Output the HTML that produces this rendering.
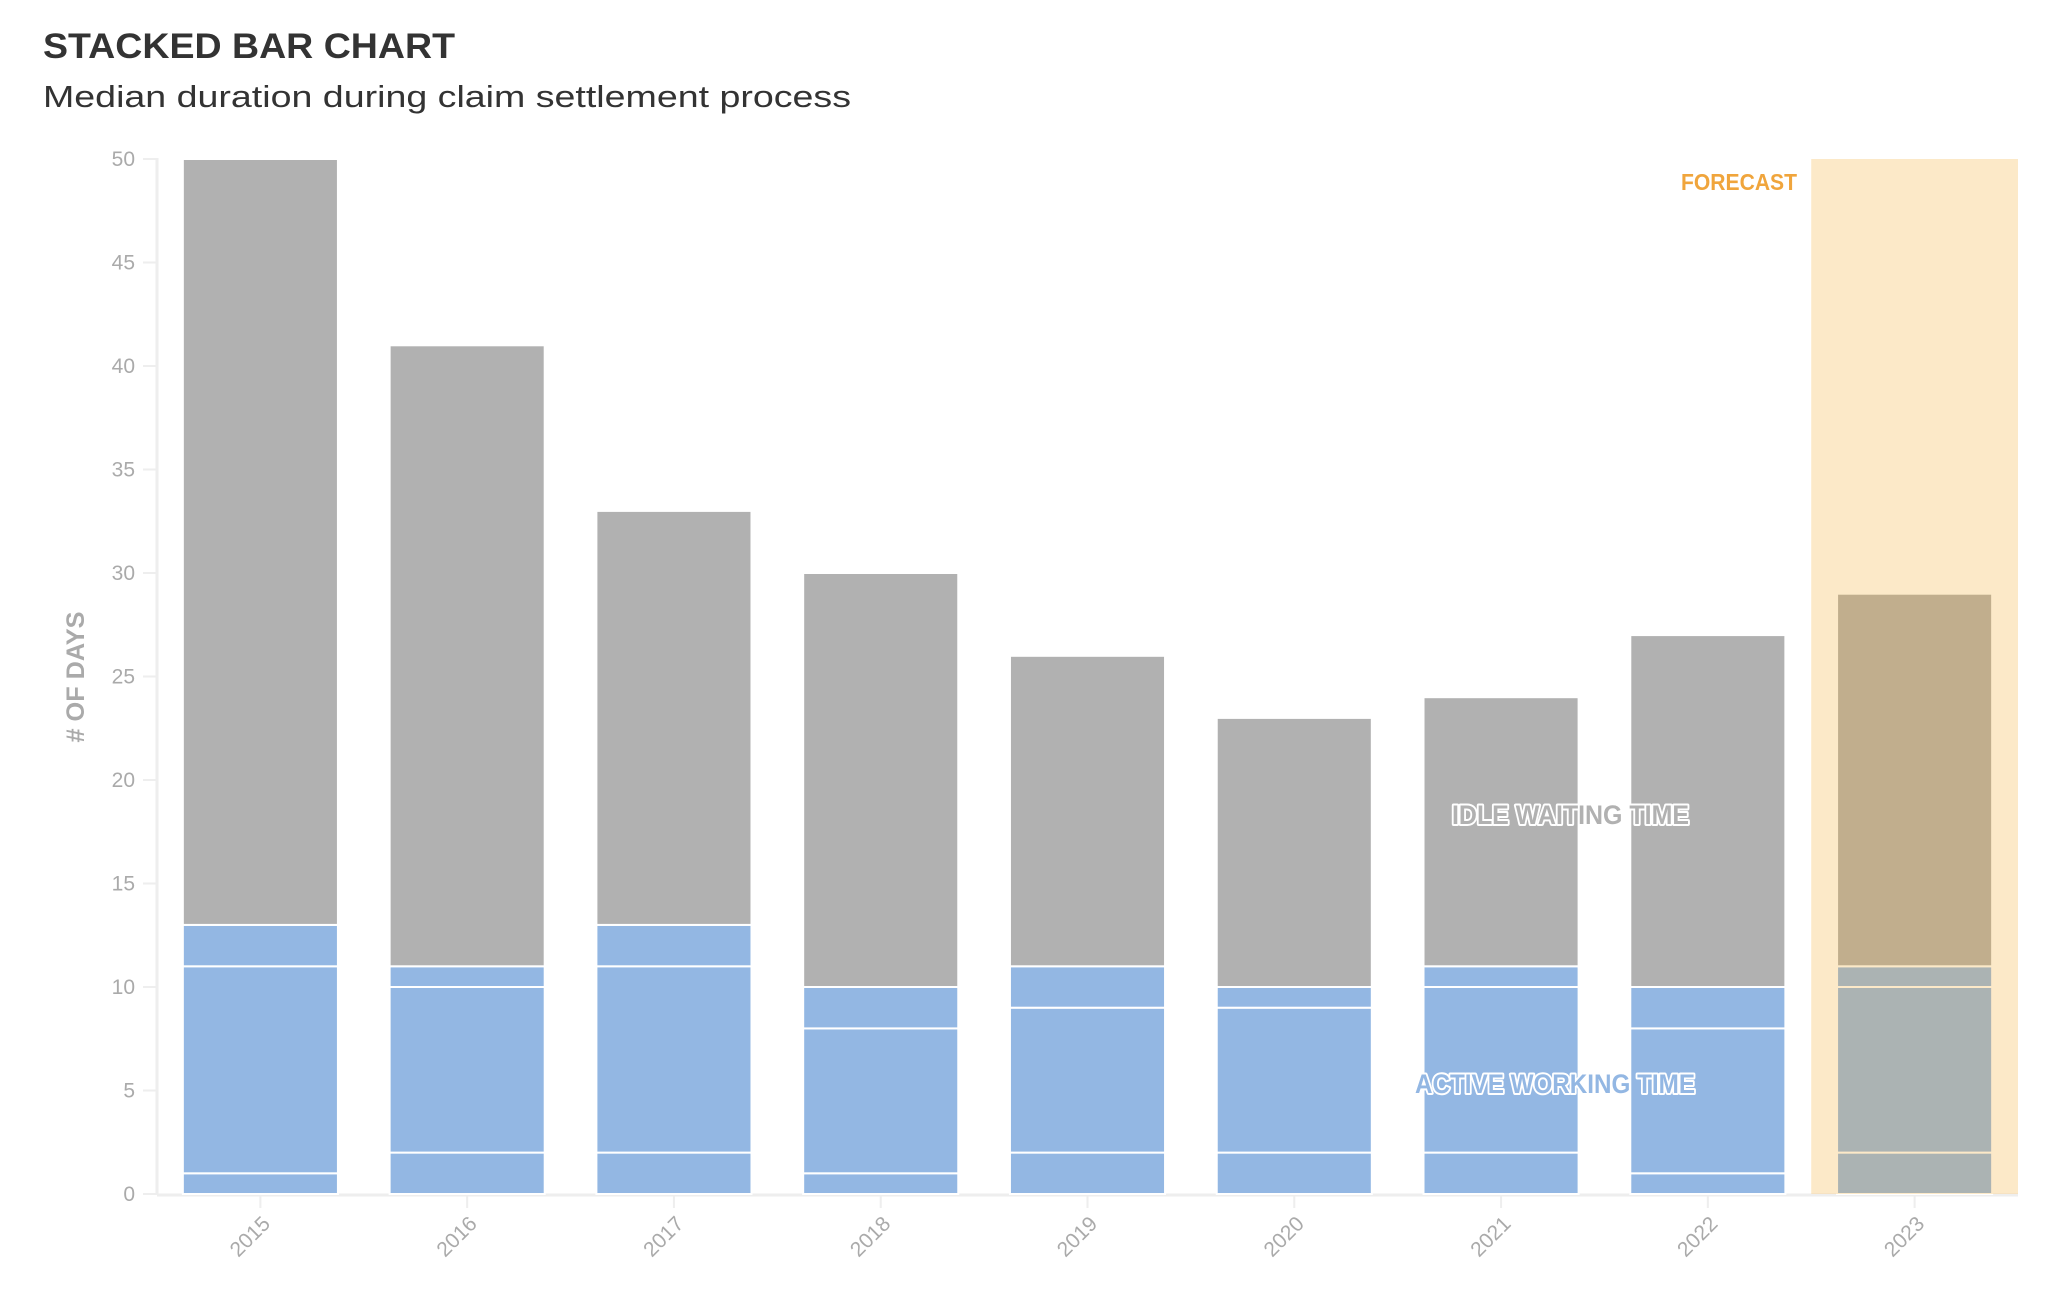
<!DOCTYPE html>
<html><head><meta charset="utf-8"><style>
html,body{margin:0;padding:0;background:#fff;}
svg{display:block;font-family:"Liberation Sans",sans-serif;}
</style></head><body>
<svg id="chart" width="2072" height="1314" viewBox="0 0 2072 1314">
<text x="43" y="58" font-size="35" font-weight="bold" fill="#333" textLength="412" lengthAdjust="spacingAndGlyphs">STACKED BAR CHART</text>
<text x="43" y="107" font-size="31" fill="#333" textLength="808" lengthAdjust="spacingAndGlyphs">Median duration during claim settlement process</text>
<text transform="translate(84,677) rotate(-90)" text-anchor="middle" font-size="25" font-weight="bold" fill="#aaa" textLength="131" lengthAdjust="spacingAndGlyphs"># OF DAYS</text>
<g id="axes"></g>
<g id="bars"></g>
<g id="overlay"></g>
<text x="1797" y="190" text-anchor="end" font-size="23" font-weight="bold" fill="#f0a53c" textLength="116" lengthAdjust="spacingAndGlyphs">FORECAST</text>
<text x="1452" y="824" font-size="27" font-weight="bold" fill="#b1b1b1" stroke="#fff" stroke-width="4" stroke-linejoin="round" paint-order="stroke" textLength="237" lengthAdjust="spacingAndGlyphs">IDLE WAITING TIME</text>
<text x="1415" y="1093" font-size="27" font-weight="bold" fill="#93b7e3" stroke="#fff" stroke-width="4" stroke-linejoin="round" paint-order="stroke" textLength="280" lengthAdjust="spacingAndGlyphs">ACTIVE WORKING TIME</text>
</svg>
<script>
const years = ['2015','2016','2017','2018','2019','2020','2021','2022','2023'];
const seg1 = [1,2,2,1,2,2,2,1,2];
const seg2 = [10,8,9,7,7,7,8,7,8];
const seg3 = [2,1,2,2,2,1,1,2,1];
const idle = [37,30,20,20,15,13,13,17,18];
const yTicks = [0,5,10,15,20,25,30,35,40,45,50];
const forecastYear = '2023';

const NS='http://www.w3.org/2000/svg';
const X0=157,X1=2018,Y0=1194,Y50=159,YMAX=50;
const bw=(X1-X0)/years.length;
const yS=v=>Y0-(v/YMAX)*(Y0-Y50);
const xS=i=>X0+i*bw;
function mk(t,a,p){const e=document.createElementNS(NS,t);for(const k in a)e.setAttribute(k,a[k]);p.appendChild(e);return e;}
const axes=document.getElementById('axes'),bars=document.getElementById('bars'),ov=document.getElementById('overlay');

yTicks.forEach(v=>{
  const t=mk('line',{x1:X0-14,x2:X0,y1:yS(v),y2:yS(v),stroke:'#eee','stroke-width':2},axes);
  
  
  const l=mk('text',{x:135,y:yS(v)+7,'text-anchor':'end','font-size':21,fill:'#aaa'},axes);
  l.textContent=v;
  
  
});
const ya=mk('line',{x1:X0,x2:X0,y1:Y50-1,y2:Y0+1,stroke:'#eee','stroke-width':3},axes);



years.forEach((y,i)=>{
  const cx=xS(i)+bw/2,w=bw*0.75,x=cx-w/2;
  const parts=[seg1[i],seg2[i],seg3[i],idle[i]];
  const cols=['#93b7e3','#93b7e3','#93b7e3','#b1b1b1'];
  let acc=0;
  parts.forEach((p,j)=>{
    const r=mk('rect',{x:x,y:yS(acc+p),width:w,height:yS(acc)-yS(acc+p),fill:cols[j],stroke:'#fff','stroke-width':2},bars);
    
    
    acc+=p;
  });
  const tk=mk('line',{x1:cx,x2:cx,y1:Y0,y2:Y0+14,stroke:'#eee','stroke-width':2},axes);
  
  
  const lb=mk('text',{transform:`translate(${cx+11},${Y0+31}) rotate(-45)`,'text-anchor':'end','font-size':21,fill:'#aaa'},axes);
  lb.textContent=y;
  
  
  if(y===forecastYear){
    const b=mk('rect',{x:xS(i),y:Y50,width:bw,height:Y0-Y50,fill:'#f5a623','fill-opacity':0.25},ov);
    
    
  }
});
const xa=mk('line',{x1:X0,x2:X1,y1:Y0+1,y2:Y0+1,stroke:'#eee','stroke-width':3},axes);


</script>
</body></html>
